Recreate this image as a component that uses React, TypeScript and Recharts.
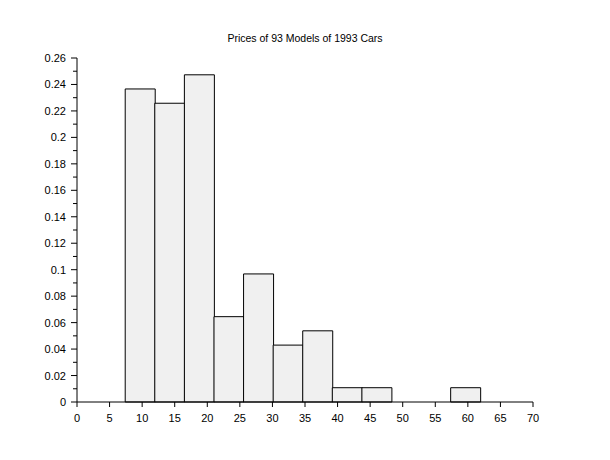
import { ComposedChart, Bar, XAxis, YAxis } from "recharts";

// Cars93 price histogram, 12 bins, relative frequency (count / 93)
const binStart = [7.4, 11.94, 16.48, 21.03, 25.57, 30.11, 34.65, 39.19, 43.73, 48.28, 52.82, 57.36];
const binEnd = [11.94, 16.48, 21.03, 25.57, 30.11, 34.65, 39.19, 43.73, 48.28, 52.82, 57.36, 61.9];
const relFreq = [0.2366, 0.2258, 0.2473, 0.0645, 0.0968, 0.043, 0.0538, 0.0108, 0.0108, 0, 0, 0.0108];

const xTicks = [0, 5, 10, 15, 20, 25, 30, 35, 40, 45, 50, 55, 60, 65, 70];
const yTicks = [
  0, 0.01, 0.02, 0.03, 0.04, 0.05, 0.06, 0.07, 0.08, 0.09, 0.1, 0.11, 0.12, 0.13,
  0.14, 0.15, 0.16, 0.17, 0.18, 0.19, 0.2, 0.21, 0.22, 0.23, 0.24, 0.25, 0.26,
];

const bins = binStart.map((s, i) => ({ mid: (s + binEnd[i]) / 2, freq: relFreq[i] }));

const font = "'Liberation Sans', Arial, sans-serif";

function YTick(props: any) {
  const { x, y, payload } = props;
  const v: number = payload.value;
  const major = Math.round(v * 100) % 2 === 0;
  const axisX = x + 11;
  return (
    <g>
      <line x1={axisX - (major ? 6 : 4)} x2={axisX} y1={y} y2={y} stroke="#000" />
      {major && (
        <text x={x} y={y} dy={4} textAnchor="end" fontSize={11} fontFamily={font} fill="#000">
          {String(parseFloat(v.toFixed(2)))}
        </text>
      )}
    </g>
  );
}

export default function App() {
  return (
    <div style={{ position: "fixed", left: 0, top: 0, width: 610, height: 460, background: "#fff" }}>
      <div
        style={{
          position: "absolute",
          left: 77,
          width: 456,
          top: 32,
          textAlign: "center",
          fontFamily: font,
          fontSize: 10.5,
          color: "#000",
        }}
      >
        Prices of 93 Models of 1993 Cars
      </div>
      <ComposedChart
        width={610}
        height={460}
        data={bins}
        margin={{ top: 58, right: 77, left: 17, bottom: 28 }}
        barCategoryGap={0}
        barGap={0}
      >
        <XAxis
          dataKey="mid"
          type="number"
          domain={[0, 70]}
          ticks={xTicks}
          interval={0}
          height={30}
          stroke="#000"
          tickSize={5}
          tickMargin={7}
          tick={{ fill: "#000", fontSize: 11, fontFamily: font }}
        />
        <YAxis
          type="number"
          domain={[0, 0.26]}
          ticks={yTicks}
          interval={0}
          width={60}
          stroke="#000"
          tickLine={false}
          tickSize={6}
          tickMargin={5}
          tick={<YTick />}
        />
        <Bar dataKey="freq" fill="#f0f0f0" stroke="#000" strokeWidth={1} isAnimationActive={false} />
      </ComposedChart>
    </div>
  );
}
